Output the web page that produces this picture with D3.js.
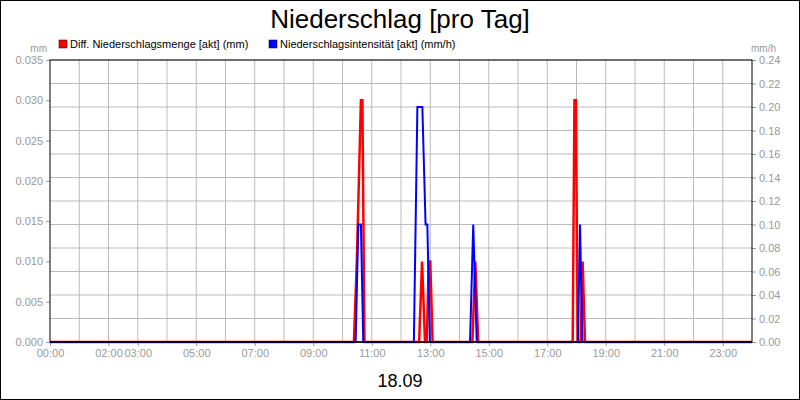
<!DOCTYPE html>
<html>
<head>
<meta charset="UTF-8">
<style>
  body { margin: 0; }
  text { font-family: Arial, "Liberation Sans", sans-serif; }
</style>
</head>
<body>
<div id="chart"></div>
<script src="https://cdn.jsdelivr.net/npm/d3@7"></script>
<script>
// hours of day, value pairs
const mmHours = [0, 10.39, 10.49, 10.63, 10.68, 10.75, 12.62, 12.72, 12.82, 12.88, 12.95, 13.0, 13.08, 14.44, 14.54, 14.64, 17.87, 17.93, 17.98, 18.04, 18.14, 18.21, 18.29, 24];
const mmValues = [0, 0, 0.010, 0.030, 0.030, 0, 0, 0.010, 0, 0, 0.010, 0.010, 0, 0, 0.010, 0, 0, 0.030, 0.030, 0, 0, 0.010, 0, 0];
const rateHours = [0, 10.45, 10.54, 10.63, 10.71, 12.44, 12.56, 12.73, 12.84, 12.90, 12.99, 14.36, 14.47, 14.59, 18.05, 18.12, 18.2, 24];
const rateValues = [0, 0, 0.10, 0.10, 0, 0, 0.20, 0.20, 0.10, 0.10, 0, 0, 0.10, 0, 0, 0.10, 0, 0];
const tickHours = [0, 2, 3, 5, 7, 9, 11, 13, 15, 17, 19, 21, 23];
const leftTicks = [0, 0.005, 0.010, 0.015, 0.020, 0.025, 0.030, 0.035];
const rightTicks = [0, 0.02, 0.04, 0.06, 0.08, 0.10, 0.12, 0.14, 0.16, 0.18, 0.20, 0.22, 0.24];

const W = 800, H = 400;
const m = { left: 50, right: 48, top: 60, bottom: 58 };
const svg = d3.select("#chart").append("svg").attr("width", W).attr("height", H);
svg.append("rect").attr("x", 0.5).attr("y", 0.5).attr("width", W - 1).attr("height", H - 1)
  .attr("fill", "white").attr("stroke", "black");

const x = d3.scaleLinear().domain([0, 24]).range([m.left, W - m.right]);
const yL = d3.scaleLinear().domain([0, 0.035]).range([H - m.bottom, m.top]);
const yR = d3.scaleLinear().domain([0, 0.24]).range([H - m.bottom, m.top]);

// grid
svg.append("g").selectAll("line").data(d3.range(1, 24)).enter().append("line")
  .attr("x1", d => x(d)).attr("x2", d => x(d)).attr("y1", m.top).attr("y2", H - m.bottom)
  .attr("stroke", "#bbb");
svg.append("g").selectAll("line").data(rightTicks.slice(1)).enter().append("line")
  .attr("x1", m.left).attr("x2", W - m.right).attr("y1", d => yR(d)).attr("y2", d => yR(d))
  .attr("stroke", "#bbb");

const axisStyle = g => {
  g.selectAll("text").attr("fill", "#999").style("font-size", "11px");
  g.selectAll(".tick line").attr("stroke", "#999");
  g.select(".domain").remove();
};
svg.append("g").attr("transform", `translate(0,${H - m.bottom})`)
  .call(d3.axisBottom(x).tickValues(tickHours).tickSize(4)
    .tickFormat(d => String(d).padStart(2, "0") + ":00")).call(axisStyle);
svg.append("g").attr("transform", `translate(${m.left},0)`)
  .call(d3.axisLeft(yL).tickValues(leftTicks).tickSize(4).tickFormat(d3.format(".3f"))).call(axisStyle);
svg.append("g").attr("transform", `translate(${W - m.right},0)`)
  .call(d3.axisRight(yR).tickValues(rightTicks).tickSize(4).tickFormat(d3.format(".2f"))).call(axisStyle);

svg.append("rect").attr("x", m.left).attr("y", m.top).attr("width", W - m.left - m.right)
  .attr("height", H - m.top - m.bottom).attr("fill", "none").attr("stroke", "black");

const line = d3.line().x(d => x(d[0]));
svg.append("path").datum(d3.zip(mmHours, mmValues))
  .attr("d", line.y(d => yL(d[1]))).attr("fill", "none").attr("stroke", "red").attr("stroke-width", 2.5);
svg.append("path").datum(d3.zip(rateHours, rateValues))
  .attr("d", line.y(d => yR(d[1]))).attr("fill", "none").attr("stroke", "blue").attr("stroke-width", 2);

// bottom baseline
svg.append("line").attr("x1", m.left).attr("x2", W - m.right).attr("y1", H - m.bottom).attr("y2", H - m.bottom)
  .attr("stroke", "black").attr("stroke-width", 1.5);

// titles
svg.append("text").attr("x", W / 2).attr("y", 28).attr("text-anchor", "middle")
  .style("font-size", "26px").text("Niederschlag [pro Tag]");
svg.append("text").attr("x", W / 2).attr("y", 387).attr("text-anchor", "middle")
  .style("font-size", "18px").text("18.09");
svg.append("text").attr("x", 47).attr("y", 52).attr("text-anchor", "end")
  .attr("fill", "#999").style("font-size", "10px").text("mm");
svg.append("text").attr("x", 776).attr("y", 52).attr("text-anchor", "end")
  .attr("fill", "#999").style("font-size", "10px").text("mm/h");

const legend = [["Diff. Niederschlagsmenge [akt] (mm)", "red", 59], ["Niederschlagsintensität [akt] (mm/h)", "blue", 269]];
legend.forEach(([label, c, lx]) => {
  svg.append("rect").attr("x", lx).attr("y", 40).attr("width", 8).attr("height", 8)
    .attr("fill", c).attr("stroke", "black").attr("stroke-width", 0.5);
  svg.append("text").attr("x", lx + 11).attr("y", 48).style("font-size", "11px").text(label);
});
</script>
</body>
</html>
